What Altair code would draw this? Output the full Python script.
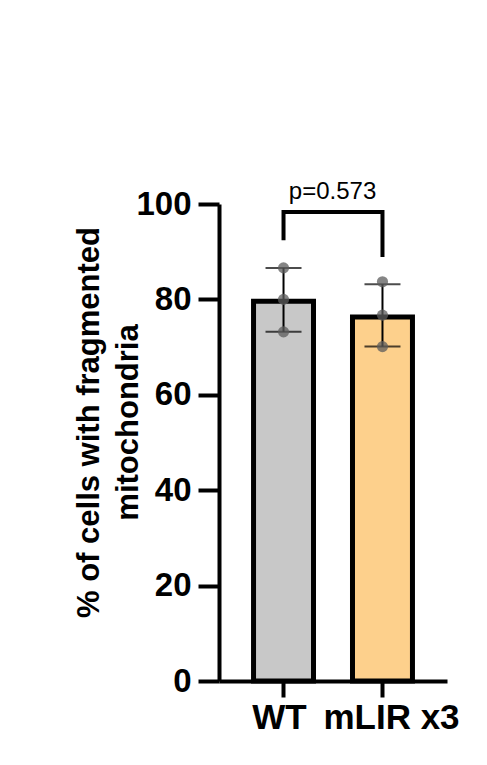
import altair as alt
import pandas as pd

# ---- data ----
groups = ["WT", "mLIR x3"]
means = [79.6, 76.3]
err_low = [73.2, 70.1]
err_high = [86.6, 83.2]
bar_colors = ["#c8c8c8", "#fdd08c"]

point_group = ["WT", "WT", "WT", "mLIR x3", "mLIR x3", "mLIR x3"]
point_value = [86.6, 80.0, 73.2, 83.7, 76.7, 70.1]

bracket_group = ["WT", "WT", "mLIR x3", "mLIR x3"]
bracket_value = [92.4, 98.3, 98.3, 88.9]
bracket_order = [0, 1, 2, 3]

p_label = ["p=0.573"]
p_group = ["WT"]
p_value = [102.6]

y_title = ["% of cells with fragmented", "mitochondria"]

FONT = "Liberation Sans"

bars_df = pd.DataFrame({"group": groups, "mean": means, "lo": err_low,
                        "hi": err_high, "color": bar_colors})
pts_df = pd.DataFrame({"group": point_group, "value": point_value})
br_df = pd.DataFrame({"group": bracket_group, "value": bracket_value,
                      "order": bracket_order})
p_df = pd.DataFrame({"group": p_group, "value": p_value, "label": p_label})

x_scale = alt.Scale(domain=groups, paddingInner=0.394, paddingOuter=0.349)
y_scale = alt.Scale(domain=[0, 100])

x_enc = alt.X("group:N", scale=x_scale, sort=groups,
              axis=alt.Axis(title=None, labelAngle=0, labelFont=FONT,
                            labelFontSize=35, labelFontWeight="bold",
                            labelColor="black", labelPadding=3,
                            labelOffset={"condition": {"test": "datum.value == 'WT'",
                                                       "value": -4},
                                         "value": 9},
                            domainColor="black", domainWidth=4,
                            tickColor="black", tickWidth=4, tickSize=16))
y_axis = alt.Axis(title=y_title, values=[0, 20, 40, 60, 80, 100],
                  titleFont=FONT, titleFontSize=31, titleFontWeight="bold",
                  titleColor="black", titleLineHeight=39, titlePadding=-9,
                  titleY=218,
                  labelFont=FONT, labelFontSize=33, labelFontWeight="bold",
                  labelColor="black", labelPadding=7,
                  domainColor="black", domainWidth=4,
                  tickColor="black", tickWidth=4, tickSize=21, grid=False)

bars = alt.Chart(bars_df).mark_bar(stroke="black", strokeWidth=5).encode(
    x=x_enc,
    y=alt.Y("mean:Q", scale=y_scale, axis=y_axis),
    fill=alt.Fill("color:N", scale=None),
)

err = alt.Chart(bars_df).mark_rule(color="black", strokeWidth=2).encode(
    x=alt.X("group:N", scale=x_scale, sort=groups),
    y=alt.Y("lo:Q", scale=y_scale),
    y2="hi:Q",
)
cap_lo = alt.Chart(bars_df).mark_tick(color="black", thickness=2, size=36,
                                      orient="horizontal").encode(
    x=alt.X("group:N", scale=x_scale, sort=groups),
    y=alt.Y("lo:Q", scale=y_scale),
)
cap_hi = alt.Chart(bars_df).mark_tick(color="black", thickness=2, size=36,
                                      orient="horizontal").encode(
    x=alt.X("group:N", scale=x_scale, sort=groups),
    y=alt.Y("hi:Q", scale=y_scale),
)

pts = alt.Chart(pts_df).mark_circle(size=125, color="#5c5c5c",
                                    opacity=0.75).encode(
    x=alt.X("group:N", scale=x_scale, sort=groups),
    y=alt.Y("value:Q", scale=y_scale),
)

bracket = alt.Chart(br_df).mark_line(color="black", strokeWidth=4,
                                     strokeJoin="miter",
                                     strokeCap="butt").encode(
    x=alt.X("group:N", scale=x_scale, sort=groups),
    y=alt.Y("value:Q", scale=y_scale),
    order="order:Q",
)

ptext = alt.Chart(p_df).mark_text(font=FONT, fontSize=24, color="black",
                                  align="center", baseline="middle",
                                  dx=49).encode(
    x=alt.X("group:N", scale=x_scale, sort=groups),
    y=alt.Y("value:Q", scale=y_scale),
    text="label:N",
)

chart = alt.layer(bars, err, cap_lo, cap_hi, pts, bracket, ptext).properties(
    width=228, height=477,
    background="white",
    autosize=alt.AutoSizeParams(type="none"),
    padding={"left": 211, "top": 196, "right": 32, "bottom": 76},
).configure_view(strokeWidth=0, stroke="transparent")

chart.save("out.html", embed_options={"renderer": "svg", "actions": False})
